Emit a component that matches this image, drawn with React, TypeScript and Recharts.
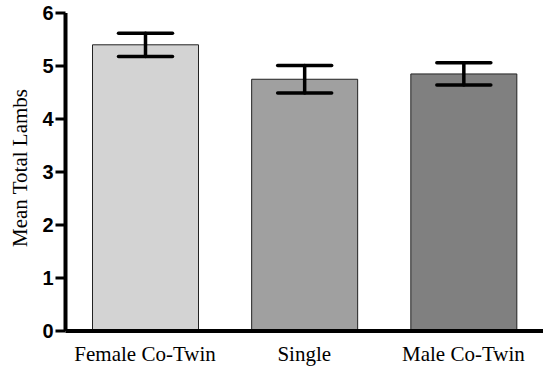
import React from 'react';
import { BarChart, Bar, XAxis, YAxis, ErrorBar, Cell } from 'recharts';

const categories = ['Female Co-Twin', 'Single', 'Male Co-Twin'];
const means = [5.4, 4.75, 4.85];
const errors = [0.22, 0.26, 0.21];
const yTicks = [0, 1, 2, 3, 4, 5, 6];
const barColors = ['#d3d3d3', '#a0a0a0', '#808080'];

const data = categories.map((name, i) => ({ name, mean: means[i], err: errors[i] }));

const YLabel = () => (
  <text
    x={20}
    y={168}
    transform="rotate(-90, 20, 168)"
    textAnchor="middle"
    dominantBaseline="central"
    fontFamily="'Liberation Serif', 'Times New Roman', serif"
    fontSize={21}
    fill="#000"
  >
    Mean Total Lambs
  </text>
);

export default function App() {
  return (
    <div style={{ position: 'absolute', left: 0, top: 0 }}>
      <BarChart
        width={543}
        height={370}
        data={data}
        margin={{ top: 13, right: 0, left: 0, bottom: 0 }}
        barSize={106}
      >
        <XAxis
          dataKey="name"
          height={39}
          axisLine={{ stroke: '#000', strokeWidth: 4 }}
          tickLine={false}
          tickSize={0}
          tickMargin={15}
          interval={0}
          tick={{ fill: '#000', fontSize: 21, fontFamily: "'Liberation Serif', 'Times New Roman', serif" }}
        />
        <YAxis
          width={65.5}
          domain={[0, 6]}
          ticks={yTicks}
          interval={0}
          axisLine={{ stroke: '#000', strokeWidth: 4 }}
          tickLine={{ stroke: '#000', strokeWidth: 3 }}
          tickSize={10}
          tickMargin={2}
          tick={{ fill: '#000', fontSize: 20, fontWeight: 'bold', fontFamily: "'Liberation Sans', Arial, sans-serif" }}
          label={{ content: () => <YLabel /> }}
        />
        <Bar dataKey="mean" stroke="#222" strokeWidth={1} isAnimationActive={false}>
          {data.map((d, i) => (
            <Cell key={d.name} fill={barColors[i]} />
          ))}
          <ErrorBar dataKey="err" width={27} stroke="#000" strokeWidth={3.5} strokeLinecap="round" isAnimationActive={false} />
        </Bar>
      </BarChart>
    </div>
  );
}
